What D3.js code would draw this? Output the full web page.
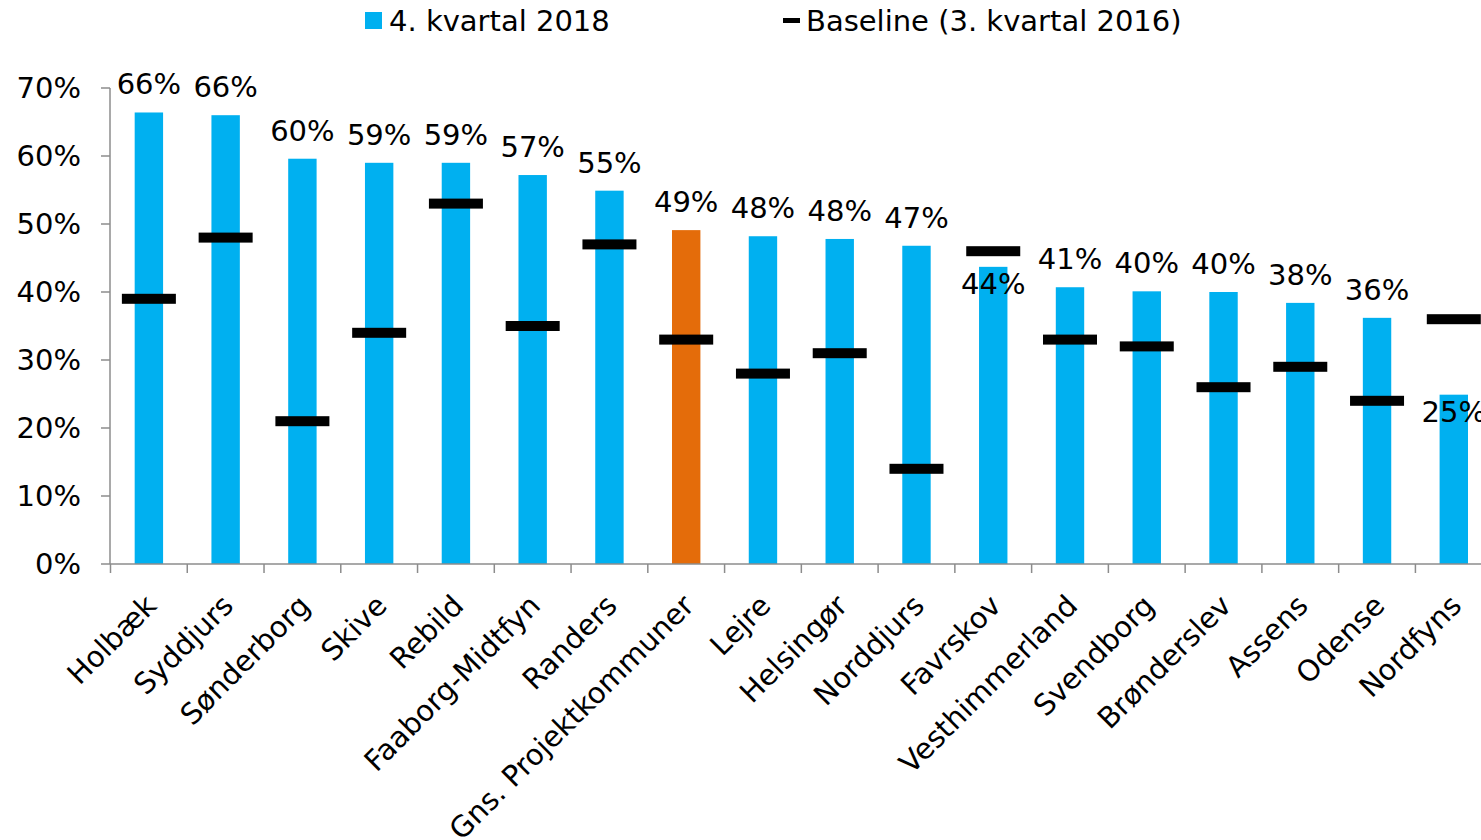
<!DOCTYPE html>
<html>
<head>
<meta charset="utf-8">
<script src="https://cdn.jsdelivr.net/npm/d3@7"></script>
<style>
  body { margin: 0; background: #fff; }
  svg text { font-family: "DejaVu Sans", Verdana, sans-serif; fill: #000; }
</style>
</head>
<body>
<svg width="1481" height="840"></svg>
<script>
var categories = ["Holbæk", "Syddjurs", "Sønderborg", "Skive", "Rebild", "Faaborg-Midtfyn",
  "Randers", "Gns. Projektkommuner", "Lejre", "Helsingør", "Norddjurs", "Favrskov",
  "Vesthimmerland", "Svendborg", "Brønderslev", "Assens", "Odense", "Nordfyns"];
var q4_2018 = [66.4, 66.0, 59.6, 59.0, 59.0, 57.2, 54.9, 49.1, 48.2, 47.8, 46.8, 43.7,
  40.7, 40.1, 40.0, 38.4, 36.2, 24.9];
var baseline = [39, 48, 21, 34, 53, 35, 47, 33, 28, 31, 14, 46, 33, 32, 26, 29, 24, 36];
var yTicks = [0, 10, 20, 30, 40, 50, 60, 70];
var highlight = "Gns. Projektkommuner";

var svg = d3.select("svg");
var blue = "#00b0f0", orange = "#e46c0a", axisGray = "#8c8c8c";
var fs = "29px";

var x = d3.scaleBand().domain(categories).range([110.5, 110.5 + 18 * 76.76]).paddingInner(0.63).paddingOuter(0.315);
var y = d3.scaleLinear().domain([0, 70]).range([564, 88]);

// bars
svg.append("g").selectAll("rect")
  .data(categories)
  .enter().append("rect")
  .attr("x", function(d) { return x(d); })
  .attr("width", x.bandwidth())
  .attr("y", function(d, i) { return y(q4_2018[i]); })
  .attr("height", function(d, i) { return y(0) - y(q4_2018[i]); })
  .attr("fill", function(d) { return d == highlight ? orange : blue; });

// y axis
var yAxis = svg.append("g");
yAxis.append("line").attr("x1", 110).attr("x2", 110).attr("y1", y(70)).attr("y2", y(0))
  .attr("stroke", axisGray).attr("stroke-width", 1.5);
yAxis.selectAll("line.t").data(yTicks).enter().append("line").attr("class", "t")
  .attr("x1", 101).attr("x2", 110)
  .attr("y1", function(d) { return y(d); }).attr("y2", function(d) { return y(d); })
  .attr("stroke", axisGray).attr("stroke-width", 1.5);
yAxis.selectAll("text").data(yTicks).enter().append("text")
  .attr("x", 81).attr("y", function(d) { return y(d); })
  .attr("dy", "0.36em").attr("text-anchor", "end")
  .style("font-size", fs)
  .text(function(d) { return d + "%"; });

// x axis
var step = x.step();
var x0 = x(categories[0]) - x.paddingOuter() * step;
var xAxis = svg.append("g");
xAxis.append("line").attr("x1", 110).attr("x2", 1481).attr("y1", y(0)).attr("y2", y(0))
  .attr("stroke", axisGray).attr("stroke-width", 1.5);
xAxis.selectAll("line.t").data(d3.range(categories.length + 1)).enter().append("line").attr("class", "t")
  .attr("x1", function(i) { return x0 + i * step; }).attr("x2", function(i) { return x0 + i * step; })
  .attr("y1", y(0)).attr("y2", y(0) + 9)
  .attr("stroke", axisGray).attr("stroke-width", 1.5);
xAxis.selectAll("text").data(categories).enter().append("text")
  .attr("transform", function(d) {
    return "translate(" + (x(d) + x.bandwidth() / 2 - 5) + "," + 593 + ") rotate(-45)";
  })
  .attr("text-anchor", "end")
  .attr("dy", "0.7em")
  .style("font-size", fs)
  .text(function(d) { return d; });

// baseline markers
svg.append("g").selectAll("rect")
  .data(categories)
  .enter().append("rect")
  .attr("x", function(d) { return x(d) + x.bandwidth() / 2 - 27; })
  .attr("width", 54)
  .attr("y", function(d, i) { return y(baseline[i]) - 5; })
  .attr("height", 10)
  .attr("fill", "#000");

// value labels
svg.append("g").selectAll("text")
  .data(categories)
  .enter().append("text")
  .attr("x", function(d) { return x(d) + x.bandwidth() / 2; })
  .attr("y", function(d, i) {
    var v = q4_2018[i];
    return baseline[i] > v ? y(v) + 27 : y(v) - 18;
  })
  .attr("text-anchor", "middle")
  .style("font-size", fs)
  .text(function(d, i) { return Math.round(q4_2018[i]) + "%"; });

// legend
var lg = svg.append("g");
lg.append("rect").attr("x", 365).attr("y", 12).attr("width", 17).attr("height", 17).attr("fill", blue);
lg.append("text").attr("x", 389).attr("y", 21).attr("dy", "0.36em").style("font-size", fs).text("4. kvartal 2018");
lg.append("rect").attr("x", 783).attr("y", 18).attr("width", 17).attr("height", 5).attr("fill", "#000");
lg.append("text").attr("x", 806).attr("y", 21).attr("dy", "0.36em").style("font-size", fs).text("Baseline (3. kvartal 2016)");
</script>
</body>
</html>
